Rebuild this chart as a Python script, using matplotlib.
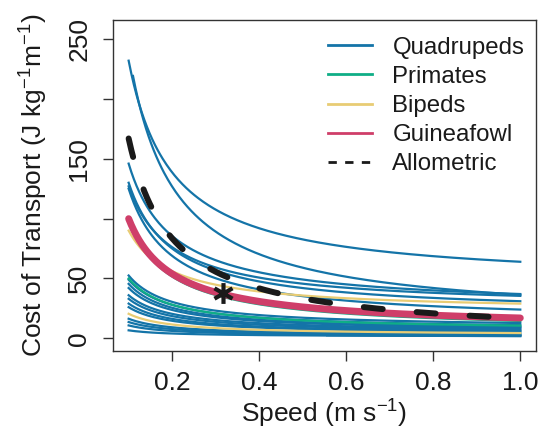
import numpy as np
import matplotlib
matplotlib.use("Agg")
import matplotlib.pyplot as plt
from matplotlib.lines import Line2D
from matplotlib.path import Path

plt.rcParams['font.family'] = ['Liberation Sans', 'DejaVu Sans']
plt.rcParams['mathtext.fontset'] = 'custom'
plt.rcParams['mathtext.rm'] = 'Liberation Sans'
plt.rcParams['mathtext.it'] = 'Liberation Sans:italic'
plt.rcParams['lines.scale_dashes'] = False

# fitted curves: COT = intercept + slope / speed, drawn from v_start to 1.0
quad_slope     = [18.67, 22.6, 12.11, 11.0, 10.17, 11.22,
                  4.41, 4.22, 4.0, 3.67, 3.11, 2.89, 2.56, 2.28, 1.43, 1.18, 0.92, 0.53, 0.75]
quad_intercept = [45.3, 13.8, 24.9, 20.0, 25.3, 12.8,
                  8.39, 6.78, 5.5, 5.33, 4.89, 4.11, 3.44, 3.22, 2.07, 1.82, 1.58, 1.37, 1.15]
quad_start     = [0.1, 0.11, 0.1, 0.1, 0.1, 0.1,
                  0.1, 0.1, 0.1, 0.1, 0.1, 0.1, 0.1, 0.1, 0.1, 0.1, 0.1, 0.1, 0.556]

prim_slope     = [9.28, 4.38]
prim_intercept = [5.22, 6.22]

biped_slope     = [6.78, 1.79]
biped_intercept = [22.2, 2.61]

fowl_slope = 9.22
fowl_intercept = 7.78

allo_slope = 16.7

star_speed = 0.317
star_cot = 37.6

speed_max = 1.0

c_quad = '#1474a8'
c_prim = '#0fae86'
c_biped = '#e8cc74'
c_fowl = '#cf3e69'


def curve(v0, a, c):
    v = np.linspace(v0, speed_max, 300)
    return v, c + a / v


fig = plt.figure(figsize=(5.38, 4.30), dpi=100)
ax = fig.add_axes([0.210, 0.1837, 0.7862, 0.7698])

for a, c, v0 in zip(quad_slope, quad_intercept, quad_start):
    ax.plot(*curve(v0, a, c), color=c_quad, lw=1.6)
for a, c in zip(prim_slope, prim_intercept):
    ax.plot(*curve(0.1, a, c), color=c_prim, lw=1.6)
for a, c in zip(biped_slope, biped_intercept):
    ax.plot(*curve(0.1, a, c), color=c_biped, lw=1.6)

ax.plot(*curve(0.1, fowl_slope, fowl_intercept), color=c_fowl, lw=5,
        solid_capstyle='round')
ax.plot(*curve(0.1, allo_slope, 0), color='#1a1a1a', lw=4.3,
        dashes=(13.7, 24.5), dash_capstyle='round')

# six-armed asterisk
ang = np.deg2rad([90, 30, 150])
verts, codes = [], []
for t in ang:
    verts += [(np.cos(t), np.sin(t)), (-np.cos(t), -np.sin(t))]
    codes += [Path.MOVETO, Path.LINETO]
star = Path(verts, codes)
ax.plot([star_speed], [star_cot], marker=star, ms=15, mew=3, color='#1a1a1a',
        linestyle='none')

ax.set_xlim(0.064, 1.036)
ax.set_ylim(-10.6, 266)
ax.set_xticks([0.2, 0.4, 0.6, 0.8, 1.0])
ax.set_xticklabels(['0.2', '0.4', '0.6', '0.8', '1.0'])
ax.set_yticks([0, 50, 100, 150, 200, 250])
ax.set_yticklabels(['0', '50', '', '150', '', '250'], rotation=90, va='center')

for s in ax.spines.values():
    s.set_color('#333333')
    s.set_linewidth(1.0)
ax.tick_params(axis='both', length=7.5, width=1.0, color='#333333',
               labelsize=19, labelcolor='#1a1a1a')
ax.tick_params(axis='x', pad=7)
ax.tick_params(axis='y', pad=8)

ax.set_xlabel('Speed (m s$^{-1}$)', fontsize=19, color='#1a1a1a')
ax.set_ylabel('Cost of Transport (J kg$^{-1}$m$^{-1}$)', fontsize=19, color='#1a1a1a')
ax.xaxis.set_label_coords(0.5, -0.142)
ax.yaxis.set_label_coords(-0.148, 0.5)

handles = [Line2D([], [], color=c_quad, lw=2),
           Line2D([], [], color=c_prim, lw=2),
           Line2D([], [], color=c_biped, lw=2),
           Line2D([], [], color=c_fowl, lw=2),
           Line2D([], [], color='#1a1a1a', lw=2, dashes=(6, 6))]
labels = ['Quadrupeds', 'Primates', 'Bipeds', 'Guineafowl', 'Allometric']
ax.legend(handles, labels, loc='upper left', bbox_to_anchor=(0.6097, 0.915),
          bbox_transform=fig.transFigure, frameon=False, fontsize=17.3,
          handlelength=1.85, handletextpad=0.83, labelspacing=0.3,
          borderpad=0, borderaxespad=0, labelcolor='#1a1a1a')

fig.savefig('out.png', dpi=100)
